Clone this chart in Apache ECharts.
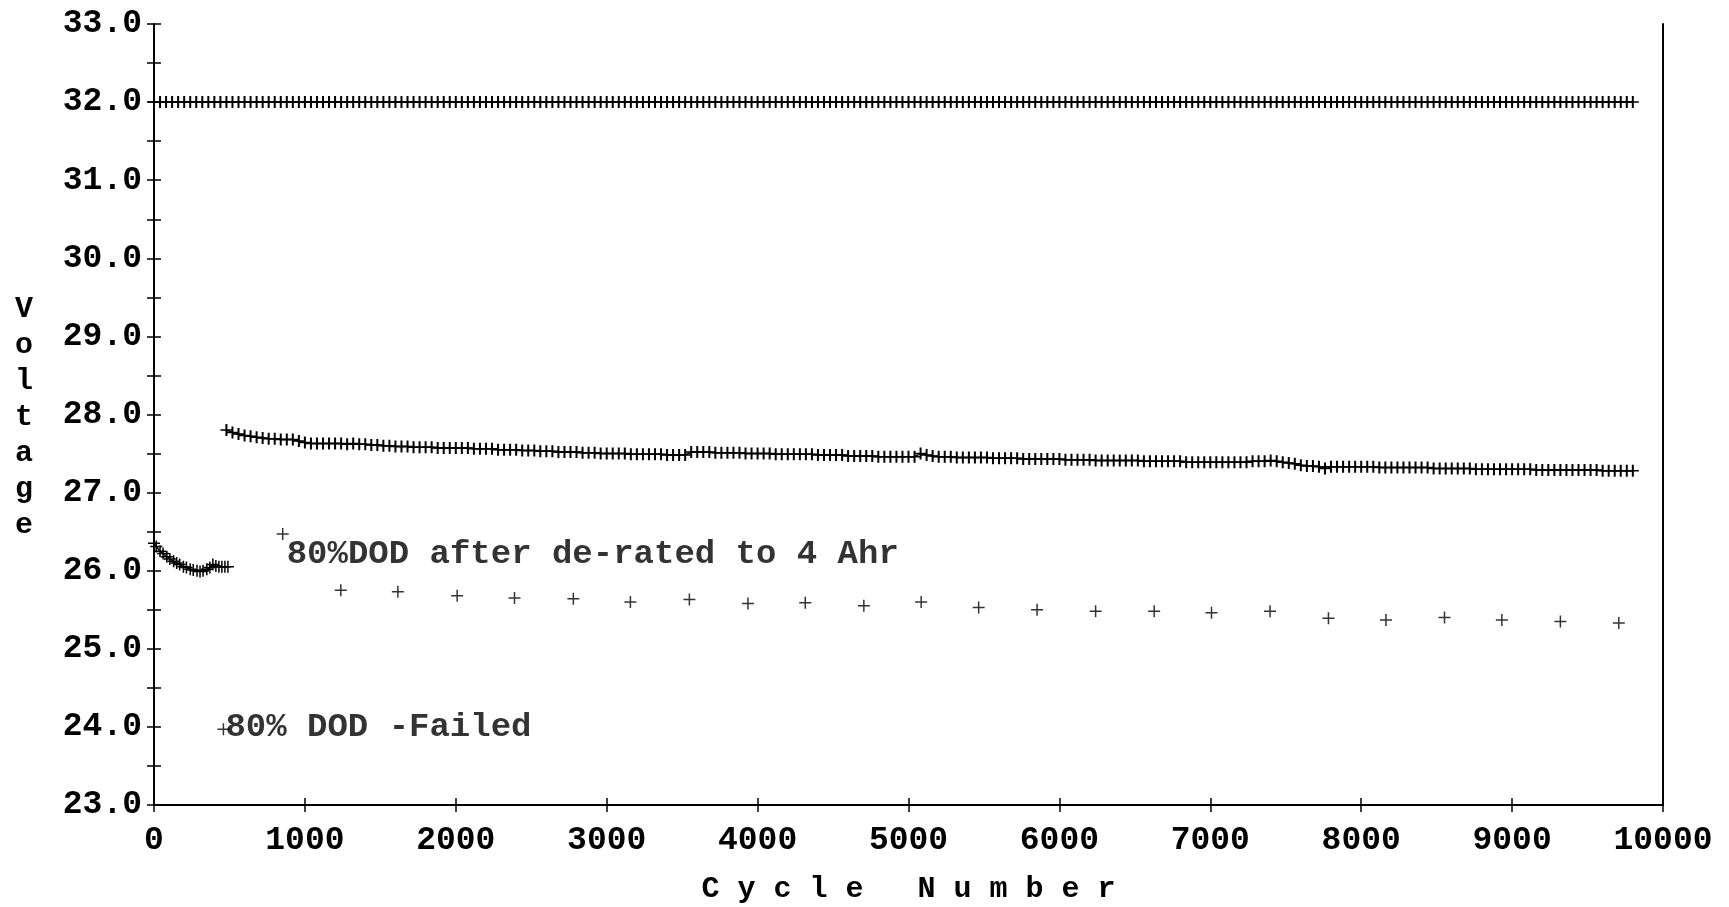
<!DOCTYPE html>
<html><head><meta charset="utf-8">
<script src="https://cdn.jsdelivr.net/npm/echarts/dist/echarts.min.js"></script>
<style>html,body{margin:0;padding:0;background:#fff}#c{width:1729px;height:907px}</style>
</head><body><div id="c"></div>
<script>
// ---- data ----
const topCycles = [
0,40,80,120,160,200,240,280,320,360,400,440,480,520,560,600,640,680,720,760,800,840,880,920,960,
1000,1040,1080,1120,1160,1200,1240,1280,1320,1360,1400,1440,1480,1520,1560,1600,1640,1680,1720,1760,1800,1840,1880,1920,1960,
2000,2040,2080,2120,2160,2200,2240,2280,2320,2360,2400,2440,2480,2520,2560,2600,2640,2680,2720,2760,2800,2840,2880,2920,2960,
3000,3040,3080,3120,3160,3200,3240,3280,3320,3360,3400,3440,3480,3520,3560,3600,3640,3680,3720,3760,3800,3840,3880,3920,3960,
4000,4040,4080,4120,4160,4200,4240,4280,4320,4360,4400,4440,4480,4520,4560,4600,4640,4680,4720,4760,4800,4840,4880,4920,4960,
5000,5040,5080,5120,5160,5200,5240,5280,5320,5360,5400,5440,5480,5520,5560,5600,5640,5680,5720,5760,5800,5840,5880,5920,5960,
6000,6040,6080,6120,6160,6200,6240,6280,6320,6360,6400,6440,6480,6520,6560,6600,6640,6680,6720,6760,6800,6840,6880,6920,6960,
7000,7040,7080,7120,7160,7200,7240,7280,7320,7360,7400,7440,7480,7520,7560,7600,7640,7680,7720,7760,7800,7840,7880,7920,7960,
8000,8040,8080,8120,8160,8200,8240,8280,8320,8360,8400,8440,8480,8520,8560,8600,8640,8680,8720,8760,8800,8840,8880,8920,8960,
9000,9040,9080,9120,9160,9200,9240,9280,9320,9360,9400,9440,9480,9520,9560,9600,9640,9680,9720,9760,9800
];
const topVolts = [
32,32,32,32,32,32,32,32,32,32,32,32,32,32,32,32,32,32,32,32,32,32,32,32,32,
32,32,32,32,32,32,32,32,32,32,32,32,32,32,32,32,32,32,32,32,32,32,32,32,32,
32,32,32,32,32,32,32,32,32,32,32,32,32,32,32,32,32,32,32,32,32,32,32,32,32,
32,32,32,32,32,32,32,32,32,32,32,32,32,32,32,32,32,32,32,32,32,32,32,32,32,
32,32,32,32,32,32,32,32,32,32,32,32,32,32,32,32,32,32,32,32,32,32,32,32,32,
32,32,32,32,32,32,32,32,32,32,32,32,32,32,32,32,32,32,32,32,32,32,32,32,32,
32,32,32,32,32,32,32,32,32,32,32,32,32,32,32,32,32,32,32,32,32,32,32,32,32,
32,32,32,32,32,32,32,32,32,32,32,32,32,32,32,32,32,32,32,32,32,32,32,32,32,
32,32,32,32,32,32,32,32,32,32,32,32,32,32,32,32,32,32,32,32,32,32,32,32,32,
32,32,32,32,32,32,32,32,32,32,32,32,32,32,32,32,32,32,32,32,32
];
const midCycles = topCycles.slice(12); // 480 .. 9800
const midVolts = [
27.80,27.77,27.75,27.73,27.72,27.71,27.70,27.69,27.69,27.68,27.68,27.68,27.66,
27.64,27.63,27.63,27.63,27.63,27.63,27.63,27.62,27.63,27.62,27.62,27.61,27.61,27.60,27.60,27.59,27.59,27.59,27.58,27.58,27.58,27.58,27.57,27.57,27.57,
27.57,27.57,27.57,27.56,27.56,27.56,27.56,27.55,27.55,27.55,27.55,27.54,27.54,27.54,27.53,27.53,27.53,27.52,27.52,27.52,27.52,27.51,27.51,27.51,27.50,
27.50,27.50,27.50,27.50,27.49,27.49,27.49,27.49,27.49,27.49,27.48,27.48,27.48,27.48,27.52,27.52,27.52,27.52,27.51,27.51,27.51,27.51,27.51,27.50,27.50,
27.50,27.50,27.50,27.49,27.49,27.49,27.49,27.49,27.49,27.49,27.48,27.48,27.48,27.48,27.48,27.47,27.47,27.47,27.47,27.47,27.46,27.46,27.46,27.46,27.46,
27.46,27.46,27.50,27.48,27.47,27.46,27.46,27.46,27.45,27.45,27.45,27.45,27.45,27.45,27.44,27.44,27.44,27.44,27.44,27.43,27.43,27.43,27.43,27.43,27.43,
27.43,27.42,27.42,27.42,27.42,27.42,27.41,27.41,27.41,27.41,27.41,27.41,27.41,27.41,27.40,27.40,27.40,27.40,27.40,27.40,27.40,27.39,27.39,27.39,27.39,
27.39,27.39,27.39,27.39,27.39,27.39,27.39,27.40,27.40,27.40,27.41,27.40,27.39,27.38,27.37,27.35,27.34,27.34,27.33,27.31,27.33,27.33,27.33,27.33,27.33,
27.33,27.33,27.33,27.32,27.32,27.32,27.32,27.32,27.32,27.32,27.32,27.32,27.31,27.31,27.31,27.31,27.31,27.31,27.31,27.30,27.30,27.30,27.30,27.30,27.30,
27.30,27.30,27.30,27.30,27.29,27.29,27.29,27.29,27.29,27.29,27.29,27.29,27.29,27.29,27.29,27.28,27.28,27.28,27.28,27.28,27.28
];
const failedCycles = [0,15,40,60,85,105,130,150,170,195,215,240,260,285,305,325,350,370,390,410,430,450,470,490];
const failedVolts = [26.35,26.31,26.25,26.22,26.18,26.15,26.12,26.10,26.08,26.05,26.04,26.02,26.01,26.00,25.99,26.00,26.02,26.04,26.08,26.06,26.05,26.05,26.05,26.05];
const deratedCycles = [1238,1616,2009,2389,2779,3157,3548,3936,4316,4704,5084,5465,5852,6240,6628,7008,7396,7783,8164,8552,8932,9320,9707];
const deratedVolts = [25.75,25.73,25.68,25.65,25.64,25.60,25.63,25.58,25.59,25.55,25.60,25.53,25.50,25.48,25.48,25.46,25.48,25.39,25.37,25.40,25.37,25.35,25.33];
const annotTexts = ['80%DOD after de-rated to 4 Ahr', '80% DOD -Failed'];
const annotCycles = [853, 460];
const annotVolts = [26.47, 23.97];
const xTitle = 'C y c l e   N u m b e r';
const yTitle = 'Voltage';

// ---- styling ----
const FONT = '"Liberation Mono", "Courier New", monospace';
const PLUS = 'path://M10.5,0H13.5V10.5H24V13.5H13.5V24H10.5V13.5H0V10.5H10.5Z';
const PLUS_DENSE = 'path://M10,0H14V10.5H24V13.5H14V24H10V13.5H0V10.5H10Z';
const pairs = (xs, ys) => xs.map((x, i) => [x, ys[i]]);
const annotOffsets = [[-2, 20], [-4, -2]];

const yBase = {min: 23, max: 33, interval: 0.5, splitLine: {show: false}};
const xBase = {type: 'value', min: 0, max: 10000, interval: 1000, splitLine: {show: false}};

const chart = echarts.init(document.getElementById('c'), null, {renderer: 'canvas'});
chart.setOption({
  animation: false,
  backgroundColor: '#fff',
  grid: {left: 154, right: 66, top: 24, bottom: 102, containLabel: false, outerBoundsMode: 'none'},
  xAxis: [
    Object.assign({}, xBase, {
      position: 'bottom',
      axisLine: {show: true, onZero: false, lineStyle: {color: '#000', width: 2}},
      axisTick: {show: true, inside: false, length: 7, lineStyle: {color: '#000', width: 1.5}},
      axisLabel: {show: true, margin: 19, color: '#000', fontFamily: FONT, fontSize: 33, fontWeight: 'bold',
                  formatter: v => String(v)},
      name: xTitle, nameLocation: 'middle', nameGap: 69,
      nameTextStyle: {color: '#000', fontFamily: FONT, fontSize: 30, fontWeight: 'bold'}
    }),
    Object.assign({}, xBase, {
      position: 'bottom',
      axisLine: {show: false, onZero: false},
      axisTick: {show: true, inside: true, length: 7, lineStyle: {color: '#000', width: 1.5}},
      axisLabel: {show: false}
    })
  ],
  yAxis: [
    Object.assign({type: 'value'}, yBase, {
      position: 'left',
      axisLine: {show: true, onZero: false, lineStyle: {color: '#000', width: 2}},
      axisTick: {show: true, inside: false, length: 7, lineStyle: {color: '#000', width: 1.5}},
      axisLabel: {show: true, margin: 12, color: '#000', fontFamily: FONT, fontSize: 33, fontWeight: 'bold',
                  formatter: v => (Math.abs(v - Math.round(v)) < 1e-9 ? v.toFixed(1) : '')}
    }),
    Object.assign({type: 'value'}, yBase, {
      position: 'left',
      axisLine: {show: false, onZero: false},
      axisTick: {show: true, inside: true, length: 7, lineStyle: {color: '#000', width: 1.5}},
      axisLabel: {show: false}
    }),
    Object.assign({type: 'value'}, yBase, {
      position: 'right',
      axisLine: {show: true, onZero: false, lineStyle: {color: '#000', width: 2}},
      axisTick: {show: false},
      axisLabel: {show: false}
    })
  ],
  graphic: [{
    type: 'text', x: 24, y: 291,
    style: {text: yTitle.split('').join('\n'), fontFamily: FONT, fontSize: 30, fontWeight: 'bold',
            lineHeight: 36, align: 'center', verticalAlign: 'top', fill: '#000'}
  }],
  series: [
    {
      name: 'Charge voltage', type: 'line', xAxisIndex: 0, yAxisIndex: 0,
      data: pairs(topCycles, topVolts),
      symbol: PLUS_DENSE, symbolSize: 12, showSymbol: true,
      lineStyle: {color: '#000', width: 1.5}, itemStyle: {color: '#000', borderWidth: 0}
    },
    {
      name: 'Mid voltage', type: 'line', xAxisIndex: 0, yAxisIndex: 0,
      data: pairs(midCycles, midVolts),
      symbol: PLUS_DENSE, symbolSize: 12, showSymbol: true,
      lineStyle: {color: '#000', width: 1.5}, itemStyle: {color: '#000', borderWidth: 0}
    },
    {
      name: '80% DOD -Failed', type: 'line', xAxisIndex: 0, yAxisIndex: 0,
      data: pairs(failedCycles, failedVolts),
      symbol: PLUS, symbolSize: 12, showSymbol: true,
      lineStyle: {color: '#000', width: 1.5}, itemStyle: {color: '#000', borderWidth: 0}
    },
    {
      name: '80%DOD after de-rated to 4 Ahr', type: 'scatter', xAxisIndex: 0, yAxisIndex: 0,
      data: pairs(deratedCycles, deratedVolts),
      symbol: PLUS, symbolSize: 12,
      itemStyle: {color: '#000', borderWidth: 0}
    },
    {
      name: 'labels', type: 'scatter', xAxisIndex: 0, yAxisIndex: 0,
      symbol: PLUS, symbolSize: 12,
      itemStyle: {color: '#000', borderWidth: 0},
      data: annotCycles.map((c, i) => ({
        value: [c, annotVolts[i]],
        label: {show: true, position: 'right', distance: 0, offset: annotOffsets[i],
                formatter: annotTexts[i], color: '#000', fontFamily: FONT, fontSize: 34, fontWeight: 'bold'}
      }))
    }
  ]
});
</script>
</body></html>
